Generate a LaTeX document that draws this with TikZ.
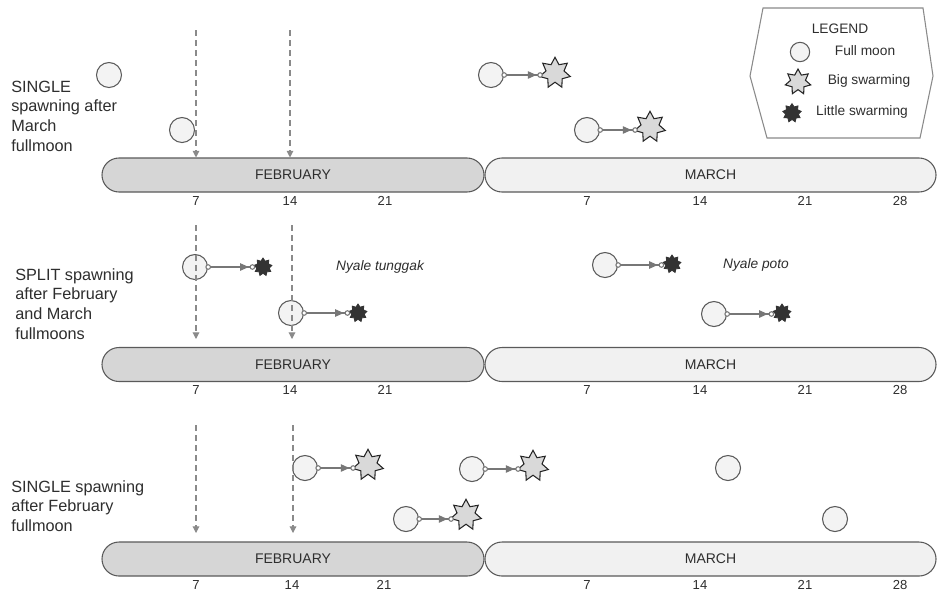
\documentclass[tikz,border=0pt]{standalone}
\usepackage{fontspec}
\setmainfont{Liberation Sans}
\usetikzlibrary{shapes.geometric,arrows.meta}
\definecolor{txt}{HTML}{2E2E2E}
\definecolor{edge}{HTML}{5A5A5A}
\definecolor{febfill}{HTML}{D6D6D6}
\definecolor{marfill}{HTML}{F1F1F1}
\definecolor{moonfill}{HTML}{F3F3F3}
\definecolor{starfill}{HTML}{D9D9D9}
\definecolor{darkstar}{HTML}{333333}
\definecolor{conncol}{HTML}{777777}
\definecolor{dashcol}{HTML}{8A8A8A}
\tikzset{
  barbase/.style={draw=edge, line width=0.8pt, rectangle, rounded corners=12.75pt,
    minimum height=25.5pt, inner sep=0pt, text=txt, font=\fontsize{10.5}{12}\selectfont},
  febbar/.style={barbase, fill=febfill, minimum width=286.5pt},
  marbar/.style={barbase, fill=marfill, minimum width=338.25pt},
  day/.style={text=txt, font=\fontsize{9.8}{11}\selectfont, inner sep=0pt},
  rowlabel/.style={text=txt, font=\fontsize{12.2}{14.8}\selectfont, align=left, anchor=west, inner sep=0pt},
  moon/.style={circle, draw=edge, fill=moonfill, line width=0.8pt, minimum size=18.75pt, inner sep=0pt},
  bigstar/.style={star, star points=7, star point ratio=1.7, draw=black!85, fill=starfill,
    line width=0.8pt, minimum size=23.5pt, inner sep=0pt},
  littlestar/.style={star, star points=9, star point ratio=1.45, draw=darkstar, fill=darkstar,
    line width=0.6pt, minimum size=13.5pt, inner sep=0pt},
  conn/.style={draw=conncol, line width=1.1pt, shorten <=-2pt,
    {Circle[open,length=4.2pt,width=4.2pt,fill=white,line width=0.8pt]}-{Triangle[length=6.5pt,width=5.5pt,sep=0.6pt]Circle[open,length=4.2pt,width=4.2pt,fill=white,line width=0.8pt]}},
  dasharrow/.style={draw=dashcol, line width=0.8pt, dash pattern=on 4.5pt off 3pt,
    -{Triangle[length=5pt,width=5pt]}},
  nyale/.style={text=txt, font=\fontsize{10.3}{12}\selectfont\itshape, inner sep=0pt},
  legtext/.style={text=txt, font=\fontsize{10.3}{12}\selectfont, inner sep=0pt},
}
\begin{document}
\begin{tikzpicture}[x=0.75pt,y=-0.75pt]
\useasboundingbox (0,0) rectangle (937,594);
\fill[white] (0,0) rectangle (937,594);

% ---------- legend ----------
\draw[draw=dashcol, line width=0.8pt, fill=white]
  (763,8) -- (923,8) -- (933,76) -- (920,138) -- (767,138) -- (750,76) -- cycle;
\node[legtext] (legt) at (840,29) {LEGEND};
\node[moon, minimum size=14.5pt] (legm) at (800,52) {};
\node[legtext] (legmt) at (865,51) {Full moon};
\node[bigstar, minimum size=19.5pt] (legs) at (798,82) {};
\node[legtext] (legst) at (869,81) {Big swarming};
\node[littlestar, minimum size=14pt] (legl) at (792,113) {};
\node[legtext] (leglt) at (862,112) {Little swarming};

% ---------- row 1 ----------
\node[rowlabel] (lab1) at (11,116) {SINGLE\\spawning after\\March\\fullmoon};
\node[febbar] (feb1) at (293,175) {FEBRUARY};
\node[marbar] (mar1) at (710.5,175) {MARCH};
\foreach \x/\d/\n in {196/7/a,290/14/b,385/21/c,587/7/d,700/14/e,805/21/f,900/28/g}
  \node[day] (d1\n) at (\x,201) {\d};
\node[moon] (m1a) at (109,75) {};
\node[moon] (m1b) at (182,130) {};
\node[moon] (m1c) at (491,75) {};
\node[bigstar] (s1c) at (555,73) {};
\node[moon] (m1d) at (587,130) {};
\node[bigstar] (s1d) at (650,127) {};
\draw[conn] (m1c.east) -- (m1c.east -| s1c.west);
\draw[conn] (m1d.east) -- (m1d.east -| s1d.west);
\coordinate (t1a) at (196,30);
\coordinate (t1b) at (290,30);
\draw[dasharrow] (t1a) -- (t1a |- feb1.north);
\draw[dasharrow] (t1b) -- (t1b |- feb1.north);

% ---------- row 2 ----------
\node[rowlabel] (lab2) at (15,304) {SPLIT spawning\\after February\\and March\\fullmoons};
\node[febbar] (feb2) at (293,364.5) {FEBRUARY};
\node[marbar] (mar2) at (710.5,364.5) {MARCH};
\foreach \x/\d/\n in {196/7/a,290/14/b,385/21/c,587/7/d,700/14/e,805/21/f,900/28/g}
  \node[day] (d2\n) at (\x,390) {\d};
\node[moon] (m2a) at (195,267) {};
\node[littlestar] (l2a) at (263,267) {};
\node[moon] (m2b) at (291,313) {};
\node[littlestar] (l2b) at (358,313) {};
\node[moon] (m2c) at (605,265) {};
\node[littlestar] (l2c) at (672,264) {};
\node[moon] (m2d) at (714,314) {};
\node[littlestar] (l2d) at (782,313) {};
\draw[conn] (m2a.east) -- (m2a.east -| l2a.west);
\draw[conn] (m2b.east) -- (m2b.east -| l2b.west);
\draw[conn] (m2c.east) -- (m2c.east -| l2c.west);
\draw[conn] (m2d.east) -- (m2d.east -| l2d.west);
\node[nyale] (ny1) at (380,267) {Nyale tunggak};
\node[nyale] (ny2) at (756,265) {Nyale poto};
\coordinate (t2a) at (196,225);
\coordinate (e2a) at (196,339);
\coordinate (t2b) at (292,225);
\coordinate (e2b) at (292,339);
\draw[dasharrow] (t2a) -- (e2a);
\draw[dasharrow] (t2b) -- (e2b);

% ---------- row 3 ----------
\node[rowlabel] (lab3) at (11,506) {SINGLE spawning\\after February\\fullmoon};
\node[febbar] (feb3) at (293,559) {FEBRUARY};
\node[marbar] (mar3) at (710.5,559) {MARCH};
\foreach \x/\d/\n in {196/7/a,292/14/b,384/21/c,587/7/d,700/14/e,805/21/f,900/28/g}
  \node[day] (d3\n) at (\x,585) {\d};
\node[moon] (m3a) at (305,468) {};
\node[bigstar] (s3a) at (368,465) {};
\node[moon] (m3b) at (406,519) {};
\node[bigstar] (s3b) at (466,515) {};
\node[moon] (m3c) at (472,469) {};
\node[bigstar] (s3c) at (533,466) {};
\node[moon] (m3d) at (728,468) {};
\node[moon] (m3e) at (835,519) {};
\draw[conn] (m3a.east) -- (m3a.east -| s3a.west);
\draw[conn] (m3b.east) -- (m3b.east -| s3b.west);
\draw[conn] (m3c.east) -- (m3c.east -| s3c.west);
\coordinate (t3a) at (196,425);
\coordinate (e3a) at (196,533);
\coordinate (t3b) at (293,425);
\coordinate (e3b) at (293,533);
\draw[dasharrow] (t3a) -- (e3a);
\draw[dasharrow] (t3b) -- (e3b);
\end{tikzpicture}
\end{document}
